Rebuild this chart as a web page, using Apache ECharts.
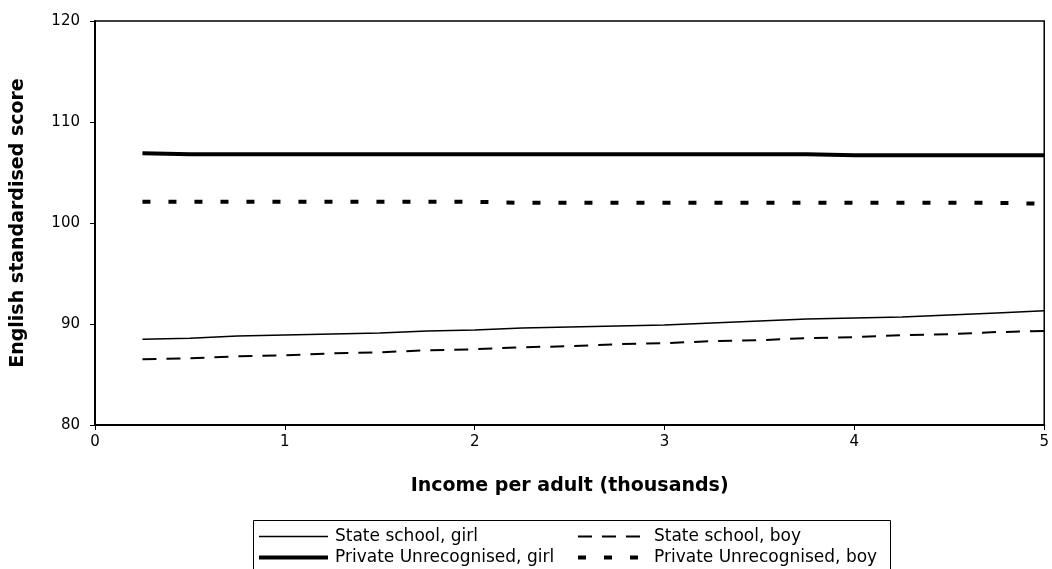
<!DOCTYPE html>
<html>
<head>
<meta charset="utf-8">
<script src="https://cdn.jsdelivr.net/npm/echarts@6/dist/echarts.min.js"></script>
<style>html,body{margin:0;padding:0;background:#fff;}#c{width:1052px;height:569px;}</style>
</head>
<body>
<div id="c"></div>
<script>
const incomes = [0.25,0.5,0.75,1,1.25,1.5,1.75,2,2.25,2.5,2.75,3,3.25,3.5,3.75,4,4.25,4.5,4.75,5];
const stateGirl = [88.5,88.6,88.8,88.9,89.0,89.1,89.3,89.4,89.6,89.7,89.8,89.9,90.1,90.3,90.5,90.6,90.7,90.9,91.1,91.3];
const stateBoy = [86.5,86.6,86.8,86.9,87.1,87.2,87.4,87.5,87.7,87.8,88.0,88.1,88.3,88.4,88.6,88.7,88.9,89.0,89.2,89.3];
const privateGirl = [106.9,106.8,106.8,106.8,106.8,106.8,106.8,106.8,106.8,106.8,106.8,106.8,106.8,106.8,106.8,106.7,106.7,106.7,106.7,106.7];
const privateBoy = [102.1,102.1,102.1,102.1,102.1,102.1,102.1,102.1,102.0,102.0,102.0,102.0,102.0,102.0,102.0,102.0,102.0,102.0,102.0,101.9];
const seriesNames = ['State school, girl','State school, boy','Private Unrecognised, girl','Private Unrecognised, boy'];
const xTicks = [0,1,2,3,4,5];
const yTicks = [80,90,100,110,120];

function pairs(vals){ return incomes.map((x,i)=>[x, vals[i]]); }

const font = '"DejaVu Sans", Verdana, sans-serif';
const styles = [
  {color: '#000', width: 1.5, type: 'solid'},
  {color: '#000', width: 2, type: [14,10]},
  {color: '#000', width: 4, type: 'solid'},
  {color: '#000', width: 4, type: [8,18], cap: 'butt'}
];
const legendCommon = {
  orient: 'vertical', top: 528, height: 60, padding: 0, itemGap: 4, itemHeight: 17,
  itemStyle: {opacity: 0},
  selectedMode: false
};
const chart = echarts.init(document.getElementById('c'));
chart.setOption({
  animation: false,
  backgroundColor: '#fff',
  grid: {left: 95, right: 7, top: 21, bottom: 144, show: true, borderColor: '#000', borderWidth: 1.5, backgroundColor: 'transparent'},
  xAxis: {
    type: 'value', min: xTicks[0], max: xTicks[xTicks.length-1], interval: 1,
    name: 'Income per adult (thousands)', nameLocation: 'middle', nameGap: 52,
    nameTextStyle: {fontFamily: font, fontSize: 19, fontWeight: 'bold', color: '#000'},
    axisLine: {show: true, lineStyle: {color: '#000', width: 2}},
    axisTick: {show: true, length: 5, inside: false, lineStyle: {color: '#000', width: 1}},
    axisLabel: {fontFamily: font, fontSize: 15, color: '#000', margin: 10},
    splitLine: {show: false}
  },
  yAxis: {
    type: 'value', min: yTicks[0], max: yTicks[yTicks.length-1], interval: 10,
    name: 'English standardised score', nameLocation: 'middle', nameGap: 67,
    nameTextStyle: {fontFamily: font, fontSize: 19, fontWeight: 'bold', color: '#000'},
    axisLine: {show: true, lineStyle: {color: '#000', width: 2}},
    axisTick: {show: true, length: 5, inside: false, lineStyle: {color: '#000', width: 1}},
    axisLabel: {fontFamily: font, fontSize: 15, color: '#000', margin: 15},
    splitLine: {show: false}
  },
  legend: [
    Object.assign({}, legendCommon, {
      left: 257, itemWidth: 69,
      textStyle: {fontFamily: font, fontSize: 17, color: '#000', padding: [0,0,0,2]},
      data: [
        {name: seriesNames[0], lineStyle: styles[0]},
        {name: seriesNames[2], lineStyle: styles[2]}
      ]
    }),
    Object.assign({}, legendCommon, {
      left: 576, itemWidth: 62,
      textStyle: {fontFamily: font, fontSize: 17, color: '#000', padding: [0,0,0,9]},
      data: [
        {name: seriesNames[1], lineStyle: styles[1]},
        {name: seriesNames[3], lineStyle: styles[3]}
      ]
    })
  ],
  graphic: [
    {type: 'rect', left: 251, top: 518, shape: {width: 637, height: 60}, style: {fill: 'none', stroke: '#000', lineWidth: 1}, silent: true}
  ],
  series: [
    {name: seriesNames[0], type: 'line', data: pairs(stateGirl), symbol: 'none', itemStyle: {color: '#000'}, lineStyle: styles[0]},
    {name: seriesNames[1], type: 'line', data: pairs(stateBoy), symbol: 'none', itemStyle: {color: '#000'}, lineStyle: styles[1]},
    {name: seriesNames[2], type: 'line', data: pairs(privateGirl), symbol: 'none', itemStyle: {color: '#000'}, lineStyle: styles[2]},
    {name: seriesNames[3], type: 'line', data: pairs(privateBoy), symbol: 'none', itemStyle: {color: '#000'}, lineStyle: styles[3]}
  ]
});
</script>
</body>
</html>
